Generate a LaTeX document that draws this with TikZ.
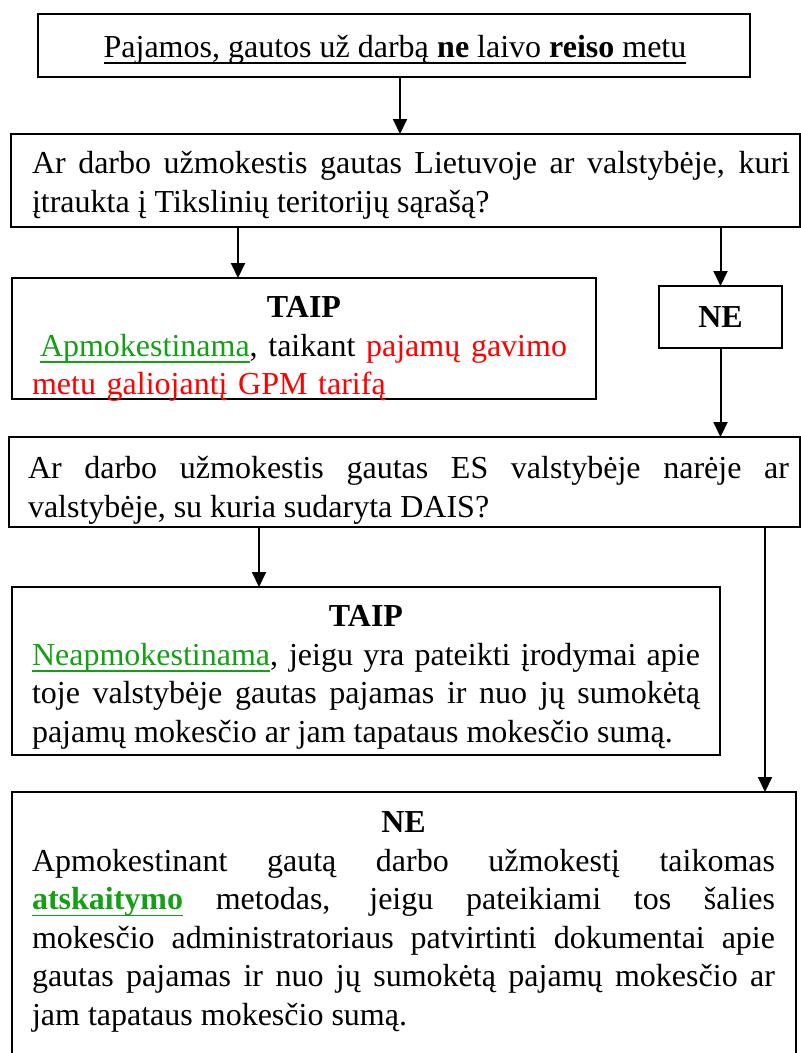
\documentclass[tikz,border=0pt]{standalone}
\usepackage{fontspec}
\setmainfont{Liberation Serif}
\usetikzlibrary{arrows.meta}
\definecolor{grn}{RGB}{20,160,20}
\definecolor{rd}{RGB}{255,0,0}
\hyphenpenalty=10000
\exhyphenpenalty=10000
\tolerance=10000
\hbadness=10000
\newcommand\undl[1]{\leavevmode\setbox0\hbox{#1}\rlap{\rule[-6.5pt]{\wd0}{1.6pt}}\box0}
\begin{document}
\begin{tikzpicture}[x=1pt,y=-1pt,
  box/.style={draw=black, line width=2pt, rectangle, inner sep=0pt, outer sep=0pt},
  txt/.style={inner sep=0pt, outer sep=0pt, anchor=north west, font=\fontsize{32}{38.5}\selectfont},
  arr/.style={line width=2pt, -{Triangle[width=14pt,length=15pt]}}]
\useasboundingbox (0,0) rectangle (801,1053);
\clip (0,0) rectangle (801,1053);
% boxes
\node[box, minimum width=712pt, minimum height=63pt] (b1) at (394,45.5) {};
\node[box, minimum width=789pt, minimum height=93pt] (b2) at (405.5,180.5) {};
\node[box, minimum width=584pt, minimum height=121pt] (t1) at (304,338.5) {};
\node[box, minimum width=123pt, minimum height=62pt] (n1) at (720.5,317) {};
\node[box, minimum width=791pt, minimum height=90pt] (b3) at (404.5,482) {};
\node[box, minimum width=708pt, minimum height=168pt] (t2) at (366,671) {};
\node[box, minimum width=784pt, minimum height=278pt] (n2) at (404,931) {};
% texts
\node[txt, anchor=base] (tb1) at (395,57) {\undl{Pajamos, gautos už darbą \textbf{ne} laivo \textbf{reiso} metu}};
\node[txt, text width=758pt, align=justify] (tb2) at (32,147) {\strut Ar darbo užmokestis gautas Lietuvoje ar valstybėje, kuri\linebreak įtraukta į Tikslinių teritorijų sąrašą?};
\node[txt, text width=544pt, align=left] (tt1) at (32,291) {\makebox[\hsize]{\strut\textbf{TAIP}}\\\hspace*{8pt}\textcolor{grn}{\undl{Apmokestinama}}, taikant \textcolor{rd}{pajamų gavimo}\\\textcolor{rd}{metu galiojantį GPM tarifą}};
\node[txt, anchor=base] (tn1) at (720.5,327) {\textbf{NE}};
\node[txt, text width=761pt, align=justify] (tb3) at (28,452) {\strut Ar darbo užmokestis gautas ES valstybėje narėje ar\linebreak valstybėje, su kuria sudaryta DAIS?};
\node[txt, text width=668pt, align=justify] (tt2) at (32,600) {\makebox[\hsize]{\strut\textbf{TAIP}}\\\textcolor{grn}{\undl{Neapmokestinama}}, jeigu yra pateikti įrodymai apie\linebreak toje valstybėje gautas pajamas ir nuo jų sumokėtą\linebreak pajamų mokesčio ar jam tapataus mokesčio sumą.};
\node[txt, text width=743pt, align=justify] (tn2) at (32,806) {\makebox[\hsize]{\strut\textbf{NE}}\\Apmokestinant gautą darbo užmokestį taikomas\linebreak \textcolor{grn}{\undl{\textbf{atskaitymo}}} metodas, jeigu pateikiami tos šalies\linebreak mokesčio administratoriaus patvirtinti dokumentai apie\linebreak gautas pajamas ir nuo jų sumokėtą pajamų mokesčio ar\linebreak jam tapataus mokesčio sumą.};
% connectors
\coordinate (x1) at (400,0);
\coordinate (x2) at (238,0);
\coordinate (x3) at (259,0);
\coordinate (x4) at (765,0);
\draw[arr] (b1.south -| x1) -- (b2.north -| x1);
\draw[arr] (b2.south -| x2) -- (t1.north -| x2);
\draw[arr] (b2.south -| n1.north) -- (n1.north);
\draw[arr] (n1.south) -- (b3.north -| n1.south);
\draw[arr] (b3.south -| x3) -- (t2.north -| x3);
\draw[arr] (b3.south -| x4) -- (n2.north -| x4);
\end{tikzpicture}
\end{document}
